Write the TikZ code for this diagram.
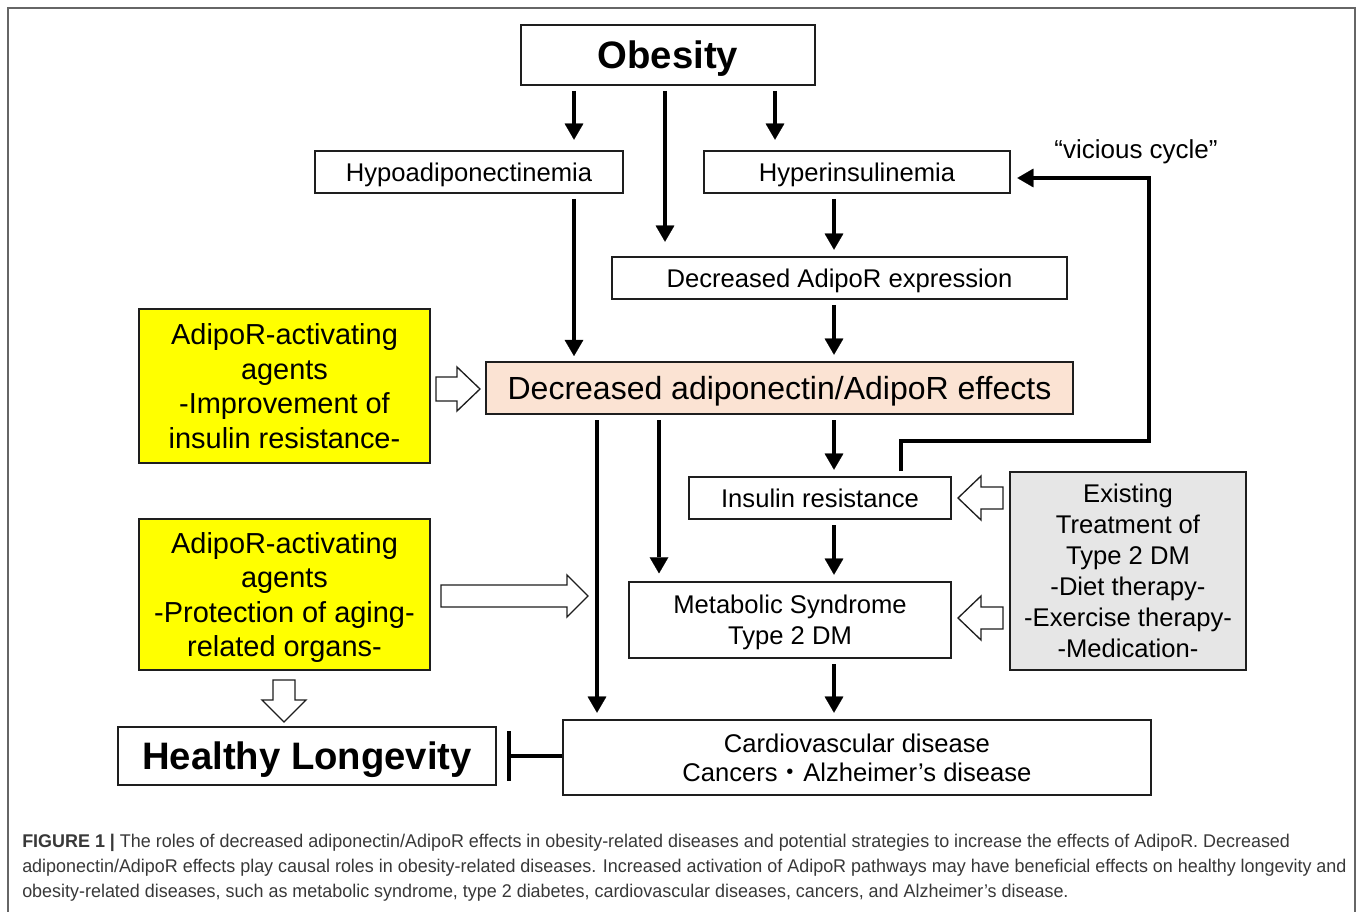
\documentclass[tikz,border=0pt]{standalone}
\usepackage{fontspec}
\setmainfont{Liberation Sans}
\newfontfamily\cjkfont{Noto Sans CJK JP}
\newfontfamily\capfont[FakeStretch=0.975]{Liberation Sans}
\usetikzlibrary{arrows.meta}
\definecolor{peach}{HTML}{FBE3D3}
\definecolor{ylw}{HTML}{FFFF00}
\definecolor{lgray}{HTML}{E6E6E6}
\definecolor{boxline}{HTML}{1E1E1E}
\definecolor{framecol}{HTML}{666666}
\definecolor{captext}{HTML}{383838}
\tikzset{
  box/.style={draw=boxline, line width=1pt, inner sep=0pt, align=center, text=black,
    text depth=0pt, font=\fontsize{19.2}{23.25}\selectfont},
  agentbox/.style={box, fill=ylw, font=\fontsize{21.7}{25.9}\selectfont},
  bigbold/.style={box, font=\fontsize{28.7}{32}\selectfont\bfseries},
  arr/.style={line width=3.6pt, draw=black,
    -{Triangle[width=14pt,length=12pt,line width=0.1pt]}},
  blk/.style={draw=boxline, line width=1pt, fill=white},
  capline/.style={anchor=west, inner sep=0pt, text=captext,
    font=\capfont\fontsize{13.8}{16}\selectfont}
}
\begin{document}
\begin{tikzpicture}[x=0.75pt,y=-0.75pt]
\useasboundingbox (0,0) rectangle (1358,912);
\fill[white] (0,0) rectangle (1358,912);
\draw[framecol, line width=1.1pt] (8,920) -- (8,8) -- (1355,8) -- (1355,920);

% nodes
\node[bigbold, minimum width=220.5pt, minimum height=45pt] (obesity) at (668,55) {Obesity};
\node[box, minimum width=231pt, minimum height=31.5pt] (hypo) at (469,172) {Hypoadiponectinemia};
\node[box, minimum width=229.5pt, minimum height=31.5pt] (hyper) at (857,172) {Hyperinsulinemia};
\node[box, minimum width=341.25pt, minimum height=31.5pt] (expr) at (839.5,278) {Decreased AdipoR expression};
\node[box, fill=peach, minimum width=440.25pt, minimum height=39pt,
      font=\fontsize{24}{28}\selectfont] (effects) at (779.5,388) {Decreased adiponectin/AdipoR effects};
\node[agentbox, minimum width=218.25pt, minimum height=115.5pt] (agent1) at (284.5,386)
  {AdipoR-activating\\agents\\-Improvement of\\insulin resistance-};
\node[agentbox, minimum width=218.25pt, minimum height=113.25pt] (agent2) at (284.5,594.5)
  {AdipoR-activating\\agents\\-Protection of aging-\\related organs-};
\node[box, minimum width=196.5pt, minimum height=31.5pt] (insulin) at (820,498) {Insulin resistance};
\node[box, minimum width=241.5pt, minimum height=57pt] (metab) at (790,620) {Metabolic Syndrome\\Type 2 DM};
\node[box, fill=lgray, minimum width=177pt, minimum height=148.5pt] (exist) at (1128,571)
  {Existing\\Treatment of\\Type 2 DM\\-Diet therapy-\\-Exercise therapy-\\-Medication-};
\node[bigbold, minimum width=283.5pt, minimum height=43.5pt] (healthy) at (307,756) {Healthy Longevity};
\node[box, minimum width=441pt, minimum height=56.25pt, font=\fontsize{19.2}{21.75}\selectfont] (cardio) at (857,757.5)
  {Cardiovascular disease\\Cancers{\cjkfont ・}Alzheimer’s disease};
\node[inner sep=0pt, text depth=0pt, font=\fontsize{19.5}{22}\selectfont] (vicious) at (1136,149) {“vicious cycle”};

% x positions of the thick arrows
\coordinate (xa) at (574,0);
\coordinate (xb) at (665,0);
\coordinate (xc) at (775,0);
\coordinate (xd) at (834,0);
\coordinate (xe) at (659,0);
\coordinate (xf) at (597,0);
\coordinate (xi) at (901,0);

\draw[arr] ([yshift=-4pt]obesity.south -| xa) -- ([yshift=8pt]hypo.north -| xa);
\draw[arr] ([yshift=-4pt]obesity.south -| xb) -- ([yshift=11pt]expr.north -| xb);
\draw[arr] ([yshift=-4pt]obesity.south -| xc) -- ([yshift=8pt]hyper.north -| xc);
\draw[arr] ([yshift=-4pt]hypo.south -| xa) -- ([yshift=4pt]effects.north -| xa);
\draw[arr] ([yshift=-4pt]hyper.south -| xd) -- ([yshift=5pt]expr.north -| xd);
\draw[arr] ([yshift=-4pt]expr.south -| xd) -- ([yshift=5pt]effects.north -| xd);
\draw[arr] ([yshift=-4pt]effects.south -| xd) -- ([yshift=5pt]insulin.north -| xd);
\draw[arr] ([yshift=-4pt]effects.south -| xe) -- ([yshift=6pt]metab.north -| xe);
\draw[arr] ([yshift=-4pt]effects.south -| xf) -- ([yshift=5pt]cardio.north -| xf);
\draw[arr] ([yshift=-4pt]insulin.south -| xd) -- ([yshift=5pt]metab.north -| xd);
\draw[arr] ([yshift=-4pt]metab.south -| xd) -- ([yshift=5pt]cardio.north -| xd);

% vicious cycle
\draw[arr]
  ([yshift=4pt]insulin.north -| xi) |- (1149,441) |- ([shift={(5pt,-4.5pt)}]hyper.east);

% inhibition
\draw[line width=3.6pt, -{Bar[width=37pt,line width=3.6pt]}] (cardio.west |- healthy.east) -- ([xshift=7.5pt]healthy.east);

% hollow block arrows
\draw[blk] (436,377) -- (457,377) -- (457,367) -- (480,389) -- (457,411) -- (457,401) -- (436,401) -- cycle;
\draw[blk] (441,585) -- (567,585) -- (567,575) -- (588,596) -- (567,617) -- (567,607) -- (441,607) -- cycle;
\draw[blk] (273,680) -- (273,700) -- (262,700) -- (284,722) -- (306,700) -- (295,700) -- (295,680) -- cycle;
\draw[blk] (1003,487) -- (981,487) -- (981,476) -- (958,498) -- (981,520) -- (981,509) -- (1003,509) -- cycle;
\draw[blk] (1003,607) -- (981,607) -- (981,596) -- (958,618) -- (981,640) -- (981,629) -- (1003,629) -- cycle;

% caption
\node[capline] (cap1) at (22,843) {\textbf{FIGURE 1 |} The roles of decreased adiponectin/AdipoR effects in obesity-related diseases and potential strategies to increase the effects of AdipoR. Decreased};
\node[capline] (cap2) at (22,868) {adiponectin/AdipoR effects play causal roles in obesity-related diseases. Increased activation of AdipoR pathways may have beneficial effects on healthy longevity and};
\node[capline] (cap3) at (22,893) {obesity-related diseases, such as metabolic syndrome, type 2 diabetes, cardiovascular diseases, cancers, and Alzheimer’s disease.};
\end{tikzpicture}
\end{document}
